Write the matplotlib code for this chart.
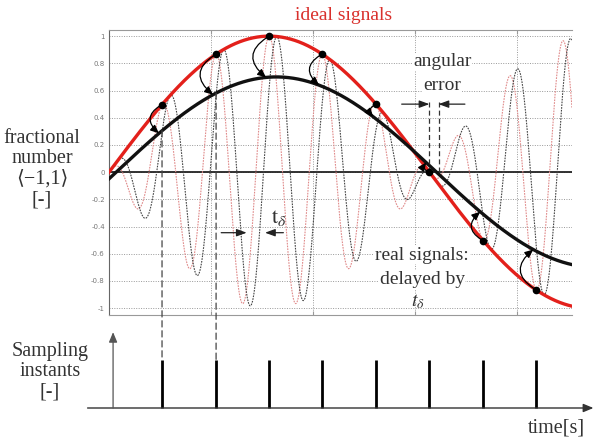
import numpy as np
from matplotlib import pyplot as plt
from matplotlib.patches import ConnectionPatch

plt.rcParams['font.family'] = ['Liberation Serif', 'DejaVu Serif']
plt.rcParams['mathtext.fontset'] = 'stix'

# values (time axis in radians of the ideal signal)
ideal_amp = 1.0
real_amp = 0.7
real_lag = 0.07        # lag of the black (real) slow signal
t_delta = 0.075        # delay between red and grey oscillations
osc_freq = 12          # one oscillation per sampling period
sample_times = [0.52, 1.05, 1.57, 2.09, 2.62, 3.14, 3.67, 4.19]
y_ticks = [1, 0.8, 0.6, 0.4, 0.2, 0, -0.2, -0.4, -0.6, -0.8, -1]
y_tick_labels = ['1', '0.8', '0.6', '0.4', '0.2', '0', '-0.2', '-0.4', '-0.6', '-0.8', '-1']
grid_x = [1, 2, 3, 4]
t_end = 4.54

W, H = 596, 441
fig = plt.figure(figsize=(W / 100, H / 100), dpi=100)
ax = fig.add_axes([109 / W, (H - 315) / H, 463 / W, 285 / H])
ax2 = fig.add_axes([109 / W, 0, 463 / W, 120 / H])

t = np.linspace(0, t_end, 4000)
red = ideal_amp * np.sin(t)
black = real_amp * np.sin(t - real_lag)
pink = ideal_amp * np.sin(t) * np.cos(osc_freq * t)
grey = ideal_amp * np.sin(t) * np.cos(osc_freq * (t - t_delta))

ax.plot(t, pink, color='#e08a8a', lw=0.8, ls=(0, (1.5, 1)), zorder=3)
ax.plot(t, grey, color='#444444', lw=0.8, ls=(0, (1.5, 1)), zorder=3)
ax.axhline(0, color='#222222', lw=1.3, zorder=2.8)
ax.plot(t, red, color='#e3201b', lw=2.4, zorder=4)
ax.plot(t, black, color='#111111', lw=2.4, zorder=4)

st = np.array(sample_times)
ax.plot(st, ideal_amp * np.sin(st), 'o', color='k', ms=4.5, zorder=6)
for tk in sample_times:
    y0 = ideal_amp * np.sin(tk)
    te = tk - 0.03
    y1 = real_amp * np.sin(te - real_lag)
    rad = 0.7 if y0 > y1 else -0.7
    ax.annotate('', xy=(te, y1), xytext=(tk, y0),
                arrowprops=dict(arrowstyle='-|>,head_length=0.5,head_width=0.22',
                                connectionstyle='arc3,rad=%.2f' % rad,
                                color='k', lw=0.9, shrinkA=2, shrinkB=0),
                zorder=6)

ax.set_xlim(0, t_end)
ax.set_ylim(-1.05, 1.045)
ax.set_yticks(y_ticks)
ax.set_yticklabels(y_tick_labels, family='DejaVu Sans')
ax.set_xticks(grid_x)
ax.tick_params(axis='y', labelsize=5, colors='#777777', length=0, pad=3)
ax.tick_params(axis='x', labelbottom=False, direction='in', length=3,
               top=True, colors='#999999')
ax.grid(True, ls=(0, (1, 1.5)), color='#999999', lw=0.7)
ax.spines['right'].set_visible(False)
ax.spines['left'].set_color('#666666')
ax.spines['top'].set_color('#999999')
ax.spines['bottom'].set_color('#999999')

# angular error
err_l, err_r = np.pi, np.pi + real_lag + 0.02
for xe in (err_l, err_r):
    ax.plot([xe, xe], [0, 0.53], color='#333333', lw=0.9, ls=(0, (4, 2.5)), zorder=5)
arr = dict(arrowstyle='-|>,head_length=0.6,head_width=0.22', color='#222222',
           lw=0.9, shrinkA=0, shrinkB=0)
ax.annotate('', xy=(err_l, 0.5), xytext=(2.87, 0.5), arrowprops=arr, zorder=5)
ax.annotate('', xy=(err_r, 0.5), xytext=(3.49, 0.5), arrowprops=arr, zorder=5)

# t_delta marker
ax.annotate('', xy=(1.35, -0.445), xytext=(1.10, -0.445), arrowprops=arr, zorder=5)
ax.annotate('', xy=(1.53, -0.445), xytext=(1.71, -0.445), arrowprops=arr, zorder=5)
ax.text(1.67, -0.34, r'$\mathrm{t}_{\delta}$', fontsize=16, color='#333333',
        ha='center', va='center', zorder=5)

box = dict(facecolor='white', edgecolor='none', pad=0.5)
tx = dict(fontsize=14, color='#333333', ha='center', va='center', zorder=2.6, bbox=box)
ax.text(3.27, 0.81, 'angular', **tx)
ax.text(3.27, 0.64, 'error', **tx)
ax.text(3.07, -0.61, 'real signals:', **tx)
ax.text(3.07, -0.79, 'delayed by', **tx)
ax.text(3.03, -0.95, r'$t_{\delta}$', fontsize=14, color='#333333',
        ha='center', va='center', zorder=5)

fig.text(344 / W, 1 - 15 / H, 'ideal signals', color='#d9302c', fontsize=14,
         ha='center', va='center')
fig.text(42 / W, 1 - 169 / H, 'fractional\nnumber\n\u27e8\u22121,1\u27e9\n[-]',
         fontsize=14.5, color='#333333', ha='center', va='center',
         multialignment='center', linespacing=1.1)

# sampling instants panel
ax2.set_xlim(0, t_end)
ax2.set_ylim((408 - H) / 48, (408 - 321) / 48)
ax2.axis('off')
ax2.vlines(sample_times, 0, 1, color='k', lw=2)
ax2.annotate('', xy=(4.75, 0), xytext=(-0.21, 0), annotation_clip=False,
             arrowprops=dict(arrowstyle='-|>,head_length=0.6,head_width=0.25',
                             color='#333333', lw=1, shrinkA=0, shrinkB=0))
ax2.annotate('', xy=(0.04, 1.58), xytext=(0.04, 0), annotation_clip=False,
             arrowprops=dict(arrowstyle='-|>,head_length=0.6,head_width=0.25',
                             color='#555555', lw=0.9, shrinkA=0, shrinkB=0))

for tk in sample_times[:2]:
    con = ConnectionPatch(xyA=(tk, real_amp * np.sin(tk - real_lag)), coordsA=ax.transData,
                          xyB=(tk, 1), coordsB=ax2.transData,
                          color='#444444', lw=0.9, ls=(0, (5, 3)), zorder=2)
    fig.add_artist(con)

fig.text(50 / W, 1 - 372 / H, 'Sampling\ninstants\n[-]', fontsize=14.5,
         color='#333333', ha='center', va='center', multialignment='center',
         linespacing=1.1)
fig.text(585 / W, 1 - 428 / H, 'time[s]', fontsize=14.5, color='#333333',
         ha='right', va='center')

fig.savefig('out.png', dpi=100)
